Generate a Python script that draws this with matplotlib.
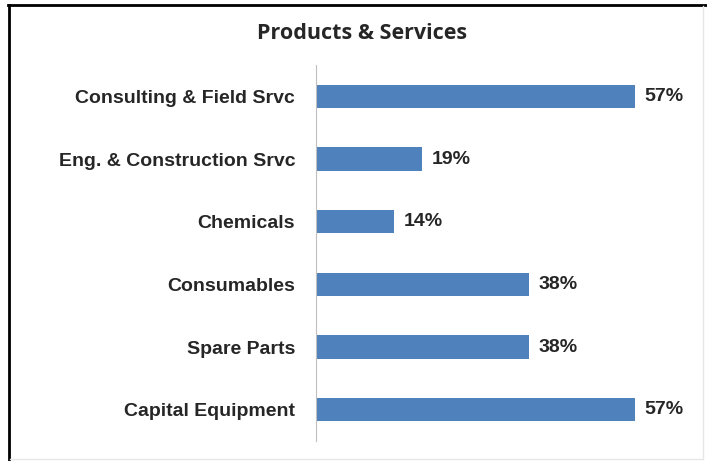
import matplotlib
matplotlib.use("Agg")
import matplotlib.pyplot as plt
from matplotlib.lines import Line2D

categories = ["Capital Equipment", "Spare Parts", "Consumables", "Chemicals",
              "Eng. & Construction Srvc", "Consulting & Field Srvc"]
values = [57, 38, 38, 14, 19, 57]
value_labels = ["57%", "38%", "38%", "14%", "19%", "57%"]
title = "Products & Services"

W, H = 707, 461
fig = plt.figure(figsize=(W / 100, H / 100), dpi=100)
fig.patch.set_facecolor("white")

# axes placement in pixels
ax_left, ax_right = 316, 316 + 319 * 70 / 57
ax_top, ax_bottom = 65, 441
ax = fig.add_axes([ax_left / W, 1 - ax_bottom / H,
                   (ax_right - ax_left) / W, (ax_bottom - ax_top) / H])

ypos = list(range(len(categories)))
ax.barh(ypos, values, height=0.37, color="#4F81BD", edgecolor="none")
ax.set_xlim(0, 70)
ax.set_ylim(-0.5, len(categories) - 0.5)

for y, v, lab in zip(ypos, values, value_labels):
    ax.annotate(lab, (v, y), xytext=(7, 0), textcoords="offset points",
                ha="left", va="center", fontsize=14, fontweight="bold",
                family="Liberation Sans", color="#262626")

ax.set_yticks(ypos)
ax.set_yticklabels(categories, fontsize=14, fontweight="bold",
                   family="Liberation Sans", color="#262626")
ax.tick_params(axis="y", length=0, pad=15)
ax.set_xticks([])
for s in ["top", "right", "bottom"]:
    ax.spines[s].set_visible(False)
ax.spines["left"].set_color("#BFBFBF")
ax.spines["left"].set_linewidth(0.8)

fig.text(362 / W, 1 - 33 / H, title, ha="center", va="center",
         fontsize=15.5, fontweight="bold", family="Open Sans", color="#262626")

# frame
fig.add_artist(Line2D([9 / W, 9 / W], [0, 1 - 5 / H], transform=fig.transFigure,
                      color="black", lw=2))
fig.add_artist(Line2D([8 / W, 1], [1 - 5 / H, 1 - 5 / H], transform=fig.transFigure,
                      color="black", lw=2))
fig.add_artist(Line2D([703 / W, 703 / W], [1 - 459 / H, 1 - 6 / H], transform=fig.transFigure,
                      color="#E6E6E6", lw=1))
fig.add_artist(Line2D([10 / W, 703 / W], [1 - 459 / H, 1 - 459 / H], transform=fig.transFigure,
                      color="#E6E6E6", lw=1))

fig.savefig("out.png", dpi=100)
